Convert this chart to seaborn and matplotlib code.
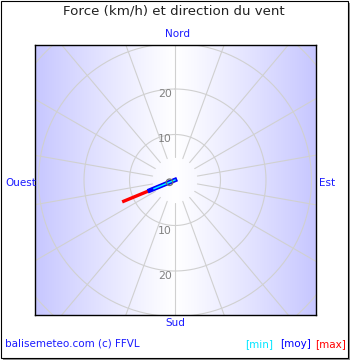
import numpy as np
import pandas as pd
import matplotlib
matplotlib.use("Agg")
import matplotlib.pyplot as plt
import seaborn as sns
from matplotlib.patches import Rectangle

# ---- data ----
title = "Force (km/h) et direction du vent"
cardinals = ["Nord", "Est", "Sud", "Ouest"]
ring_values = [10, 20, 30, 40]
ring_labels = ["10", "20"]
spoke_angles = list(range(0, 360, 20))
wind_direction = 247.5          # degrees from north (WSW)
series_names = ["max", "moy", "min"]
series_speeds = [12.2, 6.0, 5.0]  # km/h
series_colors = ["#ff0000", "#0000ff", "#00ffff"]
marker_speed = 1.3
credit = "balisemeteo.com (c) FFVL"
legend_labels = ["[min]", "[moy]", "[max]"]
legend_colors = ["#00e5ff", "#0000ff", "#ff0000"]

sns.set_style("white")
plt.rcParams["font.family"] = ["DejaVu Sans"]

W, H = 350, 360
fig = plt.figure(figsize=(W / 100, H / 100), dpi=100)
fig.patch.set_facecolor("white")

def fx(x):
    return x / W

def fy(y):
    return 1 - y / H

# plot box in pixels
L, T, R, B = 35, 45, 316, 315
cx, cy = 175, 180
scale = 4.55  # px per km/h
ax = fig.add_axes([fx(L), fy(B), (R - L) / W, (B - T) / H])
xlim = ((L - cx) / scale, (R - cx) / scale)
ylim = ((cy - B) / scale, (cy - T) / scale)
ax.set_xticks([])
ax.set_yticks([])
for s in ax.spines.values():
    s.set_color("black")
    s.set_linewidth(1.0)

# background gradient: blue at edges, white in centre
xs = np.linspace(-1, 1, 300)
t = np.abs(xs) ** 1.1
edge = np.array([0.78, 0.78, 1.0])
img = (1 - t)[:, None] * np.array([1, 1, 1]) + t[:, None] * edge
img = np.tile(img[None, :, :], (10, 1, 1))
ax.imshow(img, extent=[*xlim, *ylim], aspect="auto", zorder=0)

grid_c = "#d0d0d0"
th = np.linspace(0, 2 * np.pi, 400)
for r in ring_values:
    ax.plot(r * np.sin(th), r * np.cos(th), color=grid_c, lw=0.8, zorder=1)
for a in spoke_angles:
    rad = np.deg2rad(a)
    ax.plot([5 * np.sin(rad), 60 * np.sin(rad)], [5 * np.cos(rad), 60 * np.cos(rad)],
            color=grid_c, lw=0.8, zorder=1)

for lab in ring_labels:
    v = float(lab)
    for sgn in (1, -1):
        ax.text(-0.7, sgn * v, lab, ha="right", va="top", color="#808080",
                fontsize=7.8, zorder=2)

# wind lines
rad = np.deg2rad(wind_direction)
rows = []
for name, spd in zip(series_names, series_speeds):
    for rr in (0.0, spd):
        rows.append({"serie": name, "x": rr * np.sin(rad), "y": rr * np.cos(rad)})
df = pd.DataFrame(rows)
widths = {"max": 2.4, "moy": 3.3, "min": 1.0}
for i, (name, col) in enumerate(zip(series_names, series_colors)):
    sub = df[df["serie"] == name]
    sns.lineplot(data=sub, x="x", y="y", color=col, lw=widths[name], ax=ax,
                 sort=False, estimator=None, zorder=3 + i,
                 solid_capstyle="projecting")
mk = pd.DataFrame({"x": [marker_speed * np.sin(rad)], "y": [marker_speed * np.cos(rad)]})
sns.scatterplot(data=mk, x="x", y="y", ax=ax, s=22, facecolor="none",
                edgecolor="#707070", linewidth=0.9, zorder=7)
ax.set_xlim(*xlim)
ax.set_ylim(*ylim)
ax.set_xlabel("")
ax.set_ylabel("")

# texts
fig.text(fx(174), fy(11), title, ha="center", va="center", fontsize=9.6, color="#222222")
blue_lab = "#1a1aff"
fig.text(fx(177.5), fy(34), cardinals[0], ha="center", va="center", fontsize=7.5, color=blue_lab)
fig.text(fx(327), fy(183), cardinals[1], ha="center", va="center", fontsize=7.5, color=blue_lab)
fig.text(fx(175), fy(323), cardinals[2], ha="center", va="center", fontsize=7.5, color=blue_lab)
fig.text(fx(21), fy(183), cardinals[3], ha="center", va="center", fontsize=7.5, color=blue_lab)

fig.text(fx(5), fy(344), credit, ha="left", va="center", fontsize=7.5, color="#1a1aff")
for lab, col, x0 in zip(legend_labels, legend_colors, [245, 280, 315]):
    fig.text(fx(x0), fy(344), lab, ha="left", va="center", fontsize=7.5, color=col)

# outer frame with shadow
fig.patches.append(Rectangle((fx(348), fy(360)), 2 / W, 357 / H, transform=fig.transFigure,
                             facecolor="#909090", edgecolor="none"))
fig.patches.append(Rectangle((fx(3), fy(360)), 347 / W, 2 / H, transform=fig.transFigure,
                             facecolor="#909090", edgecolor="none"))
fig.patches.append(Rectangle((fx(0.5), fy(357.5)), 347 / W, 357 / H, transform=fig.transFigure,
                             facecolor="none", edgecolor="black", lw=0.8))

fig.savefig("out.png", dpi=100)
